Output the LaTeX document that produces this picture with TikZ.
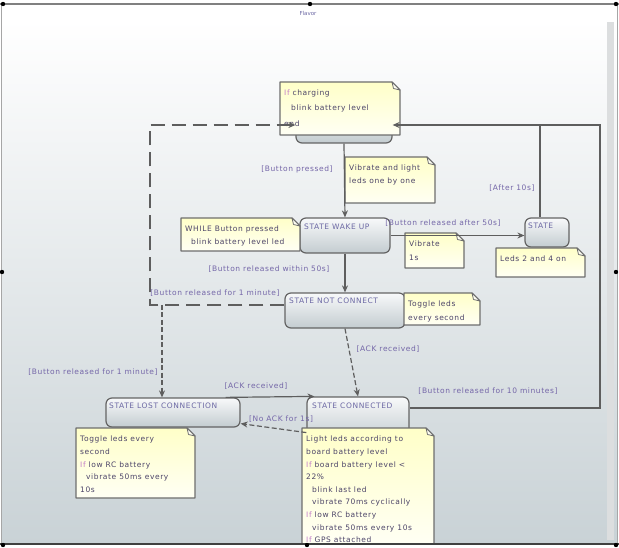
\documentclass[tikz,border=0pt]{standalone}
\usepackage{fontspec}
\newfontfamily\dvs[LetterSpace=8]{DejaVu Sans}
\newfontfamily\dvt{DejaVu Sans}
\usetikzlibrary{arrows.meta}
\definecolor{edgegray}{HTML}{646464}
\definecolor{stTop}{HTML}{F8F9FA}
\definecolor{stBot}{HTML}{C3CCD0}
\definecolor{noteTop}{HTML}{FFFFC8}
\definecolor{noteBot}{HTML}{FFFFF4}
\definecolor{noteEdge}{HTML}{6E6E6E}
\definecolor{lblcol}{HTML}{7466A8}
\definecolor{stcol}{HTML}{6C68A4}
\definecolor{notecol}{HTML}{4C4468}
\definecolor{ifcol}{HTML}{C27CC8}
\definecolor{bgBot}{HTML}{C9D2D6}
\definecolor{connc}{HTML}{5E5E5E}
\definecolor{scrollc}{HTML}{DCDEDF}
\newcommand\kwif{\textcolor{ifcol}{If}}
\newcommand\notebox[6]{%
  \path[notebody] (#2,#3) -- ({#2+#4-8},#3) -- ({#2+#4},{#3+8}) -- ({#2+#4},{#3+#5}) -- (#2,{#3+#5}) -- cycle;
  \path[notefold] ({#2+#4-8},#3) -- ({#2+#4-6.5},{#3+6.5}) -- ({#2+#4},{#3+8}) -- cycle;
  \node[notetext] (#1) at ({#2+4},{#3+8}) {#6};
}
\begin{document}
\begin{tikzpicture}[x=1pt,y=-1pt,
  every node/.style={inner sep=0pt},
  basefont/.style={font=\dvs\fontsize{7.5}{12.6}\selectfont},
  statebox/.style={draw=edgegray, line width=1.2pt, rounded corners=6pt, top color=stTop, bottom color=stBot},
  stitle/.style={basefont, text=stcol, anchor=west},
  notebody/.style={top color=noteTop, bottom color=noteBot, draw=noteEdge, line width=1.1pt, line join=round},
  notefold/.style={fill=noteBot, draw=noteEdge, line width=0.8pt, line join=round},
  notetext/.style={basefont, text=notecol, anchor=north west, align=left},
  lbl/.style={basefont, text=lblcol},
  conn/.style={draw=connc, line width=1.2pt, -{Stealth[length=7pt,width=6pt]}},
  plainconn/.style={draw=connc, line width=1.2pt},
  longdash/.style={dash pattern=on 14pt off 7pt},
  shortdash/.style={dash pattern=on 5pt off 2.5pt},
  handle/.style={fill=black},
]
\useasboundingbox (0,0) rectangle (619,548);
\fill[white] (0,0) rectangle (619,548);
\shade[top color=white, bottom color=bgBot] (1,20) rectangle (617,544);
\fill[scrollc] (607,22) rectangle (614,540);
\node[font=\dvt\fontsize{5.5}{6}\selectfont, text=stcol] (title) at (308,13) {Flavor};

% states
\node[statebox, minimum width=96pt, minimum height=36pt] (topst) at (344,125) {};
\node[statebox, minimum width=90pt, minimum height=35pt] (wake) at (345,235.5) {};
\node[statebox, minimum width=44pt, minimum height=29pt] (st) at (547,232.5) {};
\node[statebox, minimum width=120pt, minimum height=35pt] (nc) at (345,310.5) {};
\node[statebox, minimum width=134pt, minimum height=29pt] (lost) at (173,412.5) {};
\node[statebox, minimum width=102pt, minimum height=43pt] (cn) at (358,418.5) {};

\node[stitle] (wakeT) at (304,227) {STATE WAKE UP};
\node[stitle] (stT) at (528,226) {STATE};
\node[stitle] (ncT) at (289,301) {STATE NOT CONNECT};
\node[stitle] (lostT) at (109,406) {STATE LOST CONNECTION};
\node[stitle] (cnT) at (312,406) {STATE CONNECTED};

% notes
\notebox{ntop}{280}{82}{120}{53}{\kwif{} charging\\[2.5pt]\hspace*{7pt}blink battery level\\[2.5pt]end}
\notebox{nvib}{345}{157}{90}{46}{Vibrate and light\\leds one by one}
\notebox{nwhile}{181}{218}{119}{33}{WHILE Button pressed\\\hspace*{6pt}blink battery level led}
\notebox{nv1}{405}{233}{59}{35}{Vibrate\\[1.5pt]1s}
\notebox{nleds}{496}{248}{89}{29}{Leds 2 and 4 on}
\notebox{ntog}{404}{293}{76}{32}{Toggle leds\\[1.5pt]every second}
\notebox{nlost}{76}{428}{119}{70}{Toggle leds every\\second\\\kwif{} low RC battery\\\hspace*{6pt}vibrate 50ms every\\10s}
\notebox{ncn}{302}{428}{132}{116}{Light leds according to\\board battery level\\\kwif{} board battery level <\\22\%\\\hspace*{6pt}blink last led\\\hspace*{6pt}vibrate 70ms cyclically\\\kwif{} low RC battery\\\hspace*{6pt}vibrate 50ms every 10s\\\kwif{} GPS attached}

% connectors
\coordinate (lc1) at (150,305);
\coordinate (lc2) at (150,125);
\coordinate (lj) at (162,305);
\coordinate (rtop) at (600,125);
\coordinate (rbot) at (600,408);
\draw[conn] (topst.south) -- (wake.north);
\draw[conn] (wake.south) -- (nc.north);
\draw[conn] (wake.east) -- (wake.east -| st.west);
\draw[plainconn] ([xshift=-7pt]st.north) -- ([xshift=-7pt]st.north |- rtop);
\draw[conn] (cn.east |- rbot) -- (rbot) -- (rtop) -- (topst.east);
\draw[conn, longdash] (nc.west |- lc1) -- (lc1) -- (lc2) -- (topst.west);
\draw[conn, shortdash] (lj) -- (lj |- lost.north);
\draw[conn, shortdash] (nc.south) -- (cn.north);
\draw[conn] ([xshift=-15pt]lost.north east) -- ([xshift=8pt]cn.north west);
\draw[conn, shortdash] ([yshift=8pt]cn.south west) -- ([yshift=4pt]lost.south east);

% labels
\node[lbl] (l1) at (297,169) {[Button pressed]};
\node[lbl] (l2) at (443,223) {[Button released after 50s]};
\node[lbl] (l3) at (512,188) {[After 10s]};
\node[lbl] (l4) at (269,269) {[Button released within 50s]};
\node[lbl] (l5) at (215,293) {[Button released for 1 minute]};
\node[lbl] (l6) at (388,349) {[ACK received]};
\node[lbl] (l7) at (256,386) {[ACK received]};
\node[lbl] (l8) at (93,372) {[Button released for 1 minute]};
\node[lbl] (l9) at (281,419) {[No ACK for 1s]};
\node[lbl] (l10) at (488,391) {[Button released for 10 minutes]};

% frame
\draw[gray!70, line width=1pt] (1,4) -- (1,544);
\draw[gray!70, line width=1pt] (617,4) -- (617,544);
\draw[gray, line width=2pt] (0,4) -- (619,4);
\draw[black!75, line width=2pt] (0,544) -- (619,544);
\foreach \hx/\hy in {3/4, 310/4, 616/4, 2/272, 616/272, 3/545, 307/545, 616/545}
  \fill[handle] (\hx,\hy) circle (2.2);
\end{tikzpicture}
\end{document}
